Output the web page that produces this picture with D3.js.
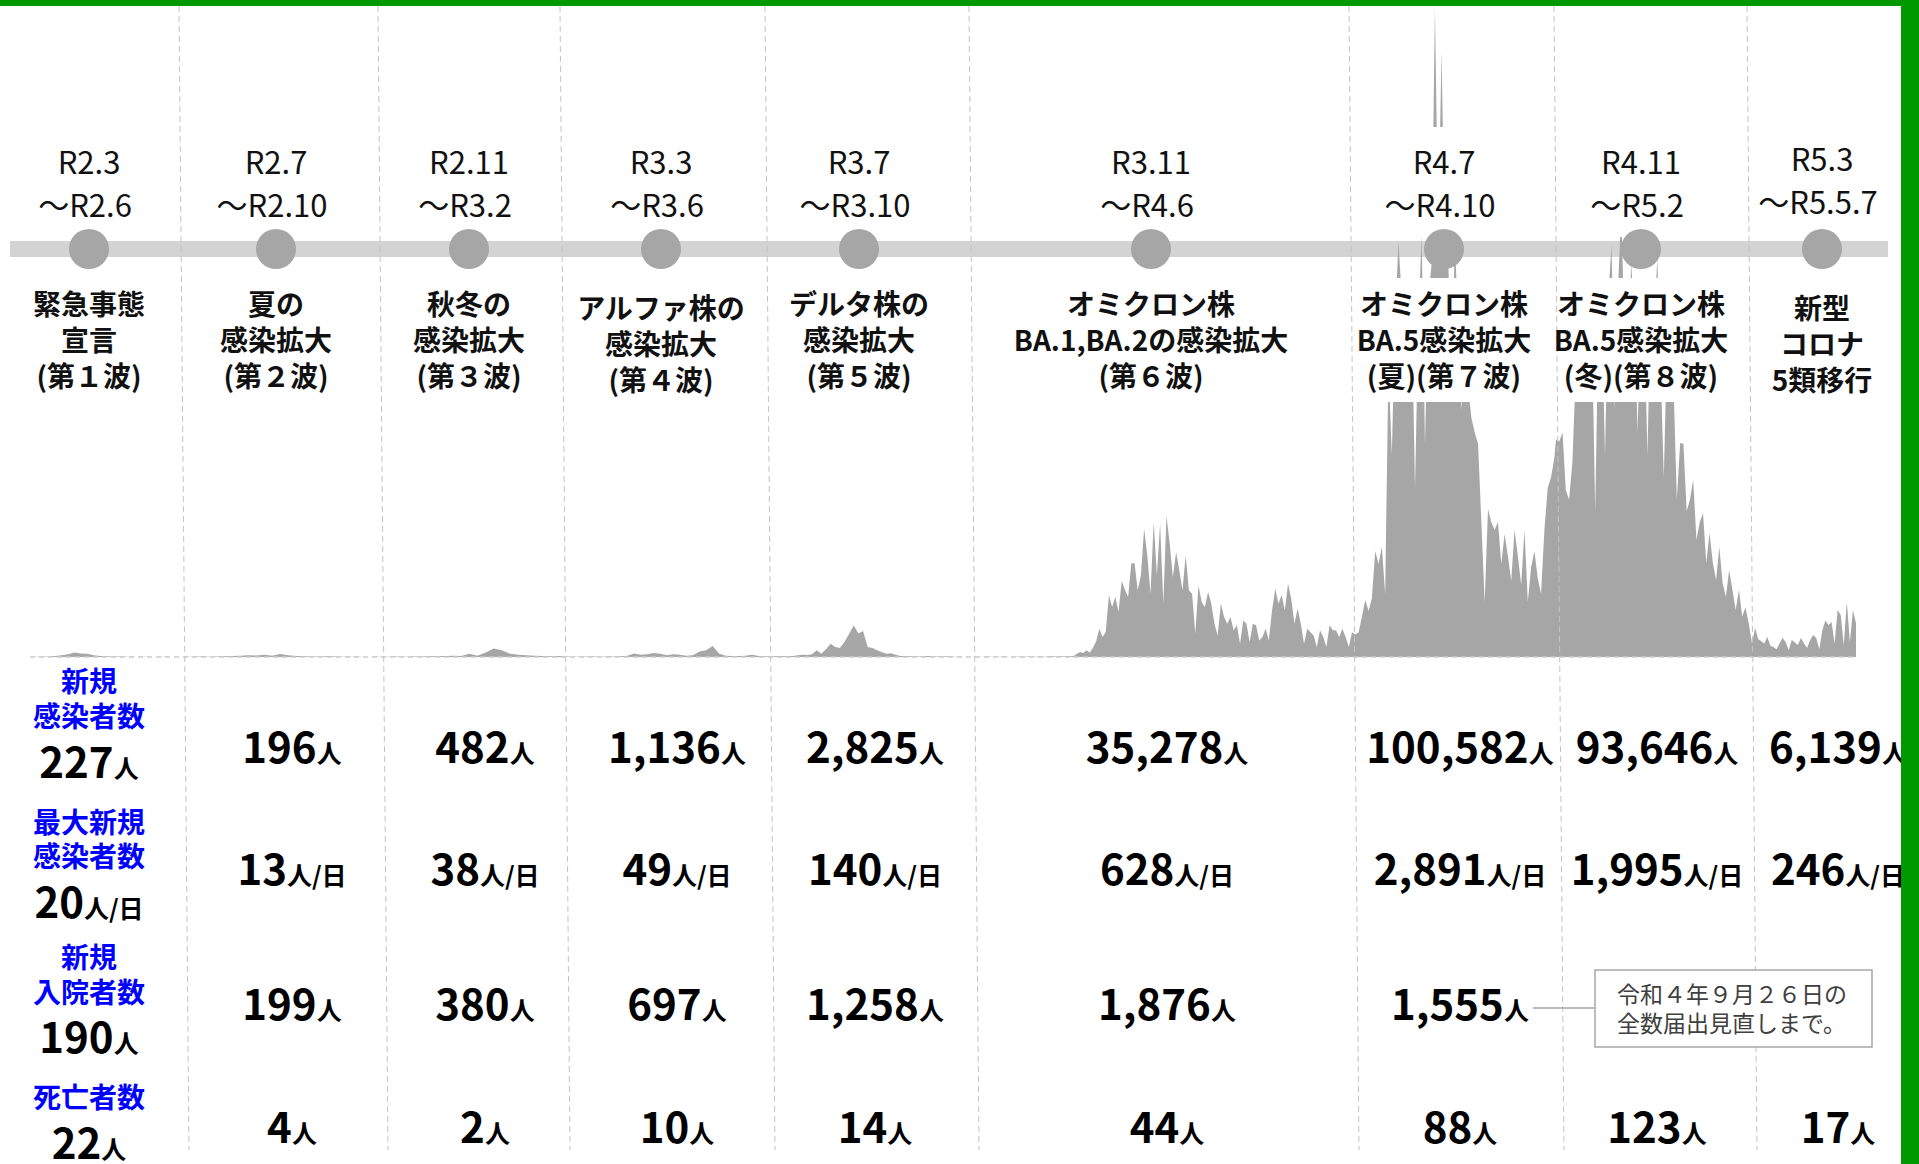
<!DOCTYPE html>
<html lang="ja">
<head>
<meta charset="utf-8">
<script src="https://cdn.jsdelivr.net/npm/d3@7"></script>
<style>
  html, body { margin: 0; padding: 0; background: #fff; }
  svg { display: block; font-family: "Noto Sans CJK JP", sans-serif; }
</style>
</head>
<body>
<svg id="chart" width="1919" height="1164"></svg>
<script>
// ---- data ----
var periodFrom = ["R2.3", "R2.7", "R2.11", "R3.3", "R3.7", "R3.11", "R4.7", "R4.11", "R5.3"];
var periodTo = ["～R2.6", "～R2.10", "～R3.2", "～R3.6", "～R3.10", "～R4.6", "～R4.10", "～R5.2", "～R5.5.7"];
var waveTitles = [
    ["緊急事態", "宣言", "(第１波)"],
    ["夏の", "感染拡大", "(第２波)"],
    ["秋冬の", "感染拡大", "(第３波)"],
    ["アルファ株の", "感染拡大", "(第４波)"],
    ["デルタ株の", "感染拡大", "(第５波)"],
    ["オミクロン株", "BA.1,BA.2の感染拡大", "(第６波)"],
    ["オミクロン株", "BA.5感染拡大", "(夏)(第７波)"],
    ["オミクロン株", "BA.5感染拡大", "(冬)(第８波)"],
    ["新型", "コロナ", "5類移行"]
];
var totalCases = [227, 196, 482, 1136, 2825, 35278, 100582, 93646, 6139];
var maxDaily = [20, 13, 38, 49, 140, 628, 2891, 1995, 246];
var admissions = [190, 199, 380, 697, 1258, 1876, 1555];
var deaths = [22, 4, 2, 10, 14, 44, 88, 123, 17];
var rowLabels = [["新規", "感染者数"], ["最大新規", "感染者数"], ["新規", "入院者数"], ["死亡者数"]];
var noteLines = ["令和４年９月２６日の", "全数届出見直しまで。"];

// daily new cases, sampled every waveStep days from each wave start
var waveStart = ["2020-03-01", "2020-07-01", "2020-11-01", "2021-03-01", "2021-07-01",
                 "2021-11-01", "2022-07-01", "2022-11-01", "2023-03-01"];
var seriesEnd = "2023-05-08";
var waveStep = [5, 5, 5, 4, 3, 2, 2, 2, 2];
var wave1 = [0,1,1,2,4,8,12,20,16,14,8,5,3,2,2,1,1,0,1,0,0,1,0,0,0];
var wave2 = [1,1,2,1,2,3,4,6,8,7,10,6,13,8,4,3,2,2,3,2,1,1,1,0,1];
var wave3 = [1,1,2,1,2,2,3,3,4,6,5,14,6,20,38,30,14,10,8,6,4,3,4,2];
var wave4 = [1,1,2,2,1,2,2,3,6,16,10,12,18,15,8,12,10,6,8,25,30,49,14,6,5,4,6,10,4,3,2];
var wave5 = [3,4,3,5,4,8,10,9,12,30,15,35,59,45,40,67,104,140,105,116,45,40,30,22,15,17,10,5,4,3,3,2,3,5,3,2,2,3,2,1,1];
var wave6 = [0,1,0,1,1,0,1,2,1,0,1,1,2,1,0,1,1,2,1,1,2,1,1,2,2,1,2,3,2,2,3,2,4,3,
             5,15,22,18,30,20,40,70,126,89,111,275,223,267,200,339,300,267,416,419,297,364,572,453,282,601,
             364,594,238,628,505,356,468,386,297,453,297,282,104,319,245,223,290,238,148,96,238,178,148,178,
             119,141,59,163,148,67,148,141,74,89,126,74,208,304,238,275,208,327,260,148,215,148,59,126,110,96,
             45,119,89,45,141,119,119,89,126,89,45];
var wave7 = [110,100,110,180,254,205,263,472,414,490,281,1300,900,1500,1850,1600,1200,1650,1550,750,
             1500,1880,950,1600,1750,2891,1900,2700,1800,1780,1200,1850,1500,1100,1400,1200,1065,1000,950,600,
             245,659,600,566,601,414,548,450,339,566,450,321,566,245,400,472,350,281,566,753,800,886];
var wave8 = [970,960,1000,744,700,864,1250,1400,1300,1500,1200,1450,650,1500,1550,900,1600,1835,1100,1650,
             1995,1400,1200,1760,1500,1000,1650,1500,900,1600,1450,1780,1300,800,1400,1300,1200,700,953,950,
             650,700,788,521,600,641,418,552,420,343,490,330,267,388,300,209,298,180,220,150];
var wave9 = [60,130,80,70,60,89,50,45,35,60,85,67,30,76,65,53,85,60,40,75,98,85,35,120,163,142,156,60,209,187,53,246,67,209,150];

// ---- layout ----
var W = 1919, H = 1164;
var markerX = [89, 276, 469, 661, 859, 1151, 1444, 1641, 1822];
var dividerX = [179, 378, 560, 765, 969, 1349, 1554, 1747];
var timeRange = [30, 185, 380, 575, 775, 965, 1352, 1556, 1752, 1856];
var barY = 249;
var baseY = 657;

var svg = d3.select("#chart");
svg.append("rect").attr("width", W).attr("height", H).attr("fill", "#fff");

var parse = d3.timeParse("%Y-%m-%d");
var waves = [wave1, wave2, wave3, wave4, wave5, wave6, wave7, wave8, wave9];
var series = [];
waves.forEach(function(vals, w) {
    var start = parse(waveStart[w]);
    vals.forEach(function(v, i) {
        series.push({ date: d3.timeDay.offset(start, i * waveStep[w]), value: v });
    });
});

var xScale = d3.scaleTime()
    .domain(waveStart.concat([seriesEnd]).map(parse))
    .range(timeRange);
var yScale = d3.scaleLinear()
    .domain([0, d3.max(maxDaily)])
    .range([baseY, 8]);
var colX = d3.scaleOrdinal().domain(periodFrom).range(markerX);

// timeline bar
svg.append("rect")
    .attr("x", 10).attr("y", barY - 8)
    .attr("width", 1878).attr("height", 16)
    .attr("fill", "#d3d3d3");

// area of daily cases
var area = d3.area()
    .x(d => xScale(d.date))
    .y0(yScale(0))
    .y1(d => yScale(d.value));

svg.append("path")
    .datum(series)
    .attr("d", area)
    .attr("fill", "#a6a6a6");

svg.append("line")
    .attr("x1", xScale(series[0].date)).attr("x2", xScale(series[series.length - 1].date))
    .attr("y1", yScale(0)).attr("y2", yScale(0))
    .attr("stroke", "#cccccc")
    .attr("stroke-width", 1.5)
    .attr("stroke-dasharray", "5,4");

// white label backgrounds
var colLeft = periodFrom.map((d, i) => i == 0 ? 0 : dividerX[i - 1] + 4);
var colRight = periodFrom.map((d, i) => i == 8 ? 1900 : dividerX[i] + 1);
periodFrom.forEach(function(d, i) {
    svg.append("rect").attr("x", colLeft[i]).attr("y", 127)
        .attr("width", colRight[i] - colLeft[i]).attr("height", 110).attr("fill", "#fff");
    svg.append("rect").attr("x", colLeft[i]).attr("y", 278)
        .attr("width", colRight[i] - colLeft[i]).attr("height", 124).attr("fill", "#fff");
});

// dashed column dividers
svg.append("g").selectAll("line")
    .data(dividerX)
    .enter()
    .append("line")
    .attr("x1", d => d).attr("y1", 6)
    .attr("x2", d => d + 10).attr("y2", 1150)
    .attr("stroke", "#c4c4c4")
    .attr("stroke-width", 1)
    .attr("stroke-dasharray", "6,4");

// markers
svg.append("g").selectAll("circle")
    .data(periodFrom)
    .enter()
    .append("circle")
    .attr("cx", d => colX(d))
    .attr("cy", barY)
    .attr("r", 20)
    .attr("fill", "#a6a6a6");

// period labels
var labels = svg.append("g").attr("text-anchor", "middle");
periodFrom.forEach(function(d, i) {
    var cx = colX(d);
    var lift = i == 8 ? 3 : 0;
    labels.append("text").attr("x", cx).attr("y", 174 - lift)
        .attr("font-size", 31).attr("fill", "#111").text(d);
    labels.append("text").attr("x", cx - 4).attr("y", 217 - lift)
        .attr("font-size", 31).attr("fill", "#111").text(periodTo[i]);
    var drop = (i == 3 || i == 8) ? 4 : 0;
    waveTitles[i].forEach(function(line, k) {
        labels.append("text").attr("x", cx).attr("y", 315 + drop + k * 36)
            .attr("font-size", 28).attr("font-weight", 700).attr("fill", "#111").text(line);
    });
});

// figures table
var fmt = d3.format(",");
var rows = [
    { values: totalCases, unit: "人", base: 763, firstBase: 778 },
    { values: maxDaily, unit: "人/日", base: 885, firstBase: 918 },
    { values: admissions, unit: "人", base: 1020, firstBase: 1053 },
    { values: deaths, unit: "人", base: 1143, firstBase: 1159 }
];
var labelBase = [[692, 727], [833, 867], [968, 1003], [1108]];

var table = svg.append("g").attr("text-anchor", "middle").attr("font-weight", 700);
rows.forEach(function(row, r) {
    rowLabels[r].forEach(function(line, k) {
        table.append("text").attr("x", colX(periodFrom[0])).attr("y", labelBase[r][k])
            .attr("font-size", 28).attr("fill", "#0000ff").text(line);
    });
    row.values.forEach(function(v, i) {
        var cx = colX(periodFrom[i]);
        var t = table.append("text")
            .attr("x", i == 0 ? cx : cx + 16)
            .attr("y", i == 0 ? row.firstBase : row.base)
            .attr("fill", "#000");
        t.append("tspan").attr("font-size", 42).text(fmt(v));
        t.append("tspan").attr("font-size", 25).text(row.unit);
    });
});

// note box
svg.append("line")
    .attr("x1", 1533).attr("x2", 1595)
    .attr("y1", 1008).attr("y2", 1008)
    .attr("stroke", "#a6a6a6").attr("stroke-width", 1.5);
svg.append("rect")
    .attr("x", 1595).attr("y", 970)
    .attr("width", 277).attr("height", 77)
    .attr("fill", "#fff")
    .attr("stroke", "#a6a6a6").attr("stroke-width", 1.5);
noteLines.forEach(function(line, k) {
    svg.append("text")
        .attr("x", 1617).attr("y", 1003 + k * 29)
        .attr("font-size", 23).attr("fill", "#404040")
        .text(line);
});

// green frame
svg.append("rect").attr("x", 0).attr("y", 0).attr("width", W).attr("height", 6).attr("fill", "#009900");
svg.append("rect").attr("x", 1901).attr("y", 0).attr("width", 18).attr("height", H).attr("fill", "#009900");
</script>
</body>
</html>
